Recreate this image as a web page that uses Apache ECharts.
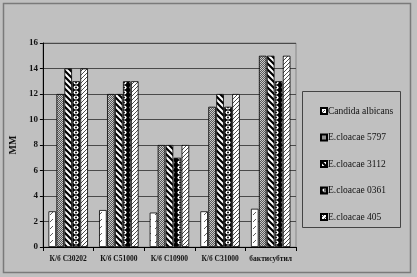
<!DOCTYPE html>
<html><head><meta charset="utf-8">
<script src="https://cdn.jsdelivr.net/npm/echarts@6/dist/echarts.min.js"></script>
<style>html,body{margin:0;padding:0;background:#c0c0c0}#c{width:417px;height:277px}</style>
</head><body><div id="c"></div>
<script>
const categories = ['К/б С30202', 'К/б С51000', 'К/б С10900', 'К/б С31000', 'бактисубтил'];
const seriesNames = ['Candida albicans', 'E.cloacae 5797', 'E.cloacae 3112', 'E.cloacae 0361', 'E.cloacae 405'];
const candida = [2.8, 2.9, 2.7, 2.8, 3.0];
const ec5797 = [12, 12, 8, 11, 15];
const ec3112 = [14, 12, 8, 12, 15];
const ec0361 = [13, 13, 7, 11, 13];
const ec405 = [14, 13, 8, 12, 15];
const yTicks = [0, 2, 4, 6, 8, 10, 12, 14, 16];

function pat(type) {
  const c = document.createElement('canvas');
  const g = c.getContext('2d');
  if (type === 'candida') {
    c.width = 7; c.height = 7;
    g.fillStyle = '#fff'; g.fillRect(0, 0, 7, 7);
    g.strokeStyle = '#333'; g.lineWidth = 0.8;
    g.beginPath(); g.moveTo(1, 5); g.lineTo(4, 2); g.stroke();
  } else if (type === 'checker') {
    c.width = 2; c.height = 2;
    g.fillStyle = '#5a5a5a'; g.fillRect(0, 0, 2, 2);
    g.fillStyle = '#c8c8c8'; g.fillRect(0, 0, 1, 1); g.fillRect(1, 1, 1, 1);
  } else if (type === 'back') {
    c.width = 6; c.height = 6;
    g.fillStyle = '#fff'; g.fillRect(0, 0, 6, 6);
    g.strokeStyle = '#000'; g.lineWidth = 2.2;
    g.beginPath();
    g.moveTo(-1, -1); g.lineTo(7, 7);
    g.moveTo(-4, 2); g.lineTo(4, 10);
    g.moveTo(2, -4); g.lineTo(10, 4);
    g.stroke();
  } else if (type === 'circles') {
    c.width = 8; c.height = 5;
    g.fillStyle = '#000'; g.fillRect(0, 0, 8, 5);
    g.fillStyle = '#fff';
    g.beginPath(); g.ellipse(4, 2.5, 2.6, 2.1, 0, 0, Math.PI * 2); g.fill();
    g.fillStyle = '#000';
    g.beginPath(); g.arc(4, 2.5, 1, 0, Math.PI * 2); g.fill();
  } else if (type === 'fwd') {
    c.width = 4; c.height = 4;
    g.fillStyle = '#fff'; g.fillRect(0, 0, 4, 4);
    g.strokeStyle = '#222'; g.lineWidth = 0.8;
    g.beginPath();
    g.moveTo(0, 4); g.lineTo(4, 0);
    g.moveTo(-2, 2); g.lineTo(2, -2);
    g.moveTo(2, 6); g.lineTo(6, 2);
    g.stroke();
  }
  return { image: c, repeat: 'repeat' };
}
const patterns = [pat('candida'), pat('checker'), pat('back'), pat('circles'), pat('fwd')];
const data = [candida, ec5797, ec3112, ec0361, ec405];

const chart = echarts.init(document.getElementById('c'), null, { renderer: 'canvas' });
const serif = 'Liberation Serif, Times New Roman, serif';
chart.setOption({
  backgroundColor: '#c0c0c0',
  animation: false,
  graphic: [
    { type: 'rect', shape: { x: 3.5, y: 3.5, width: 407, height: 269 }, style: { fill: 'none', stroke: '#7a7a7a', lineWidth: 1.5 }, z: 0 },
    { type: 'rect', shape: { x: 302.5, y: 91.5, width: 98, height: 136 }, style: { fill: 'none', stroke: '#444', lineWidth: 1 }, z: 0 }
  ],
  grid: { left: 33, right: 121, top: 43, bottom: 30, show: true, borderColor: '#888', borderWidth: 1, backgroundColor: 'transparent' },
  legend: {
    orient: 'vertical', left: 315, top: 100,
    itemWidth: 6, itemHeight: 6, itemGap: 14.5,
    icon: 'rect',
    textStyle: { fontFamily: serif, fontSize: 9.5, color: '#111', lineHeight: 12, padding: [0, 0, 0, -4] },
    data: seriesNames
  },
  xAxis: {
    type: 'category', data: categories,
    axisLine: { lineStyle: { color: '#000' } },
    axisTick: { show: true, length: 4, lineStyle: { color: '#000' } },
    axisLabel: { interval: 0, fontFamily: serif, fontSize: 7.5, fontWeight: 'bold', color: '#111', margin: 8 }
  },
  yAxis: {
    type: 'value', min: 0, max: 16, interval: 2,
    name: 'ММ', nameLocation: 'middle', nameRotate: 90, nameGap: 19,
    nameTextStyle: { fontFamily: serif, fontSize: 10, fontWeight: 'bold', color: '#111' },
    axisLine: { show: true, lineStyle: { color: '#000' } },
    axisTick: { show: true, length: 3, lineStyle: { color: '#000' } },
    axisLabel: { fontFamily: serif, fontSize: 9, fontWeight: 'bold', color: '#111', margin: 5,
      formatter: v => yTicks.includes(v) ? String(v) : '' },
    splitLine: { lineStyle: { color: '#4a4a4a', width: 1 } }
  },
  series: seriesNames.map((n, i) => ({
    name: n, type: 'bar', data: data[i],
    barGap: '5%', barCategoryGap: '22%',
    itemStyle: { color: patterns[i], borderColor: '#000', borderWidth: 0.8 }
  }))
});
</script></body></html>
